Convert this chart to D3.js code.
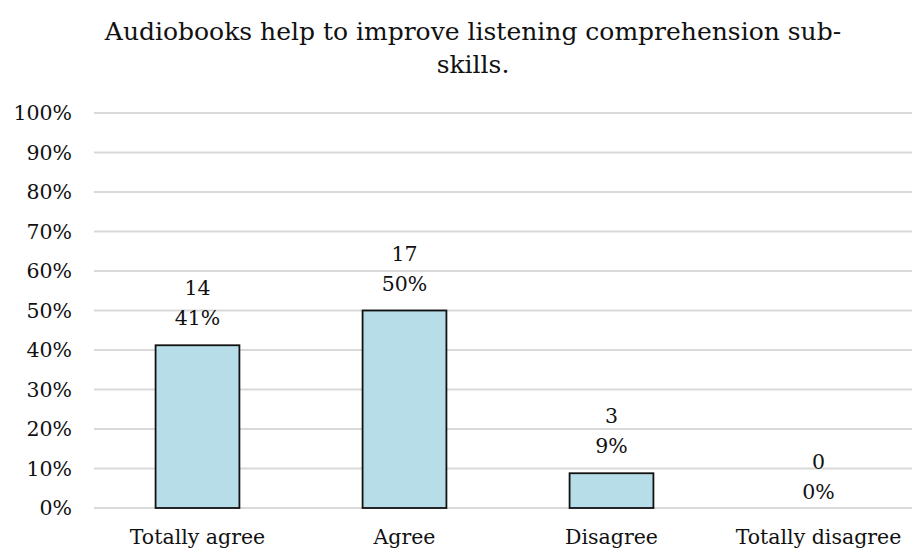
<!DOCTYPE html>
<html><head><meta charset="utf-8">
<script src="https://cdn.jsdelivr.net/npm/d3@7"></script>
<style>body{margin:0;background:#fff;}svg{display:block;}text{font-family:"DejaVu Serif",serif;fill:#111;}</style>
</head><body>
<svg id="c" width="912" height="550"></svg>
<script>
const categories = ["Totally agree", "Agree", "Disagree", "Totally disagree"];
const counts = [14, 17, 3, 0];
const shares = [0.412, 0.50, 0.088, 0];
const yTicks = [0, 0.1, 0.2, 0.3, 0.4, 0.5, 0.6, 0.7, 0.8, 0.9, 1.0];
const titleLines = ["Audiobooks help to improve listening comprehension sub-", "skills."];

const svg = d3.select("#c");
const W = 912, H = 550;
const x = d3.scaleBand().domain(categories).range([94, 922]).paddingInner(0.595).paddingOuter(0.2975);
const y = d3.scaleLinear().domain([0, 1]).range([508, 113]);
const fs = 20.5;

// y axis labels
const yAxis = d3.axisLeft(y).tickValues(yTicks).tickFormat(d3.format(".0%")).tickSize(0).tickPadding(22);
const gy = svg.append("g").attr("transform", "translate(94,0)").call(yAxis);
gy.select(".domain").remove();
gy.selectAll("text").style("font-size", fs + "px").style("font-family", '"DejaVu Serif",serif').attr("fill", "#111");
// gridlines
svg.append("g").selectAll("line").data(yTicks).join("line")
  .attr("x1", 94).attr("x2", W).attr("y1", d => y(d)).attr("y2", d => y(d))
  .attr("stroke", "#d9d9d9").attr("stroke-width", 1.8);

// bars
svg.append("g").selectAll("rect").data(categories).join("rect")
  .attr("x", d => x(d)).attr("width", x.bandwidth())
  .attr("y", (d, i) => y(shares[i])).attr("height", (d, i) => y(0) - y(shares[i]))
  .attr("fill", "#b7dde8").attr("stroke", "#111").attr("stroke-width", 1.8)
  .style("display", (d, i) => shares[i] > 0 ? null : "none");

// data labels
const lab = svg.append("g").selectAll("g").data(categories).join("g")
  .attr("transform", (d, i) => `translate(${x(d) + x.bandwidth() / 2},${y(shares[i]) - (shares[i] > 0 ? 27 : 16)})`);
lab.append("text").attr("text-anchor", "middle").attr("dy", "0.35em").attr("y", -30)
  .style("font-size", fs + "px").text((d, i) => counts[i]);
lab.append("text").attr("text-anchor", "middle").attr("dy", "0.35em")
  .style("font-size", fs + "px").text((d, i) => d3.format(".0%")(shares[i]));

// x axis labels
const xAxis = d3.axisBottom(x).tickSize(0).tickPadding(0);
const gx = svg.append("g").attr("transform", "translate(0,528)").call(xAxis);
gx.select(".domain").remove();
gx.selectAll("text").style("font-size", fs + "px").style("font-family", '"DejaVu Serif",serif').attr("fill", "#111").attr("dy", "0.35em").attr("y", 9);

// title
svg.append("g").selectAll("text").data(titleLines).join("text")
  .attr("x", 473).attr("y", (d, i) => 40 + i * 33).attr("text-anchor", "middle")
  .style("font-size", "25px").text(d => d);
</script>
</body></html>
